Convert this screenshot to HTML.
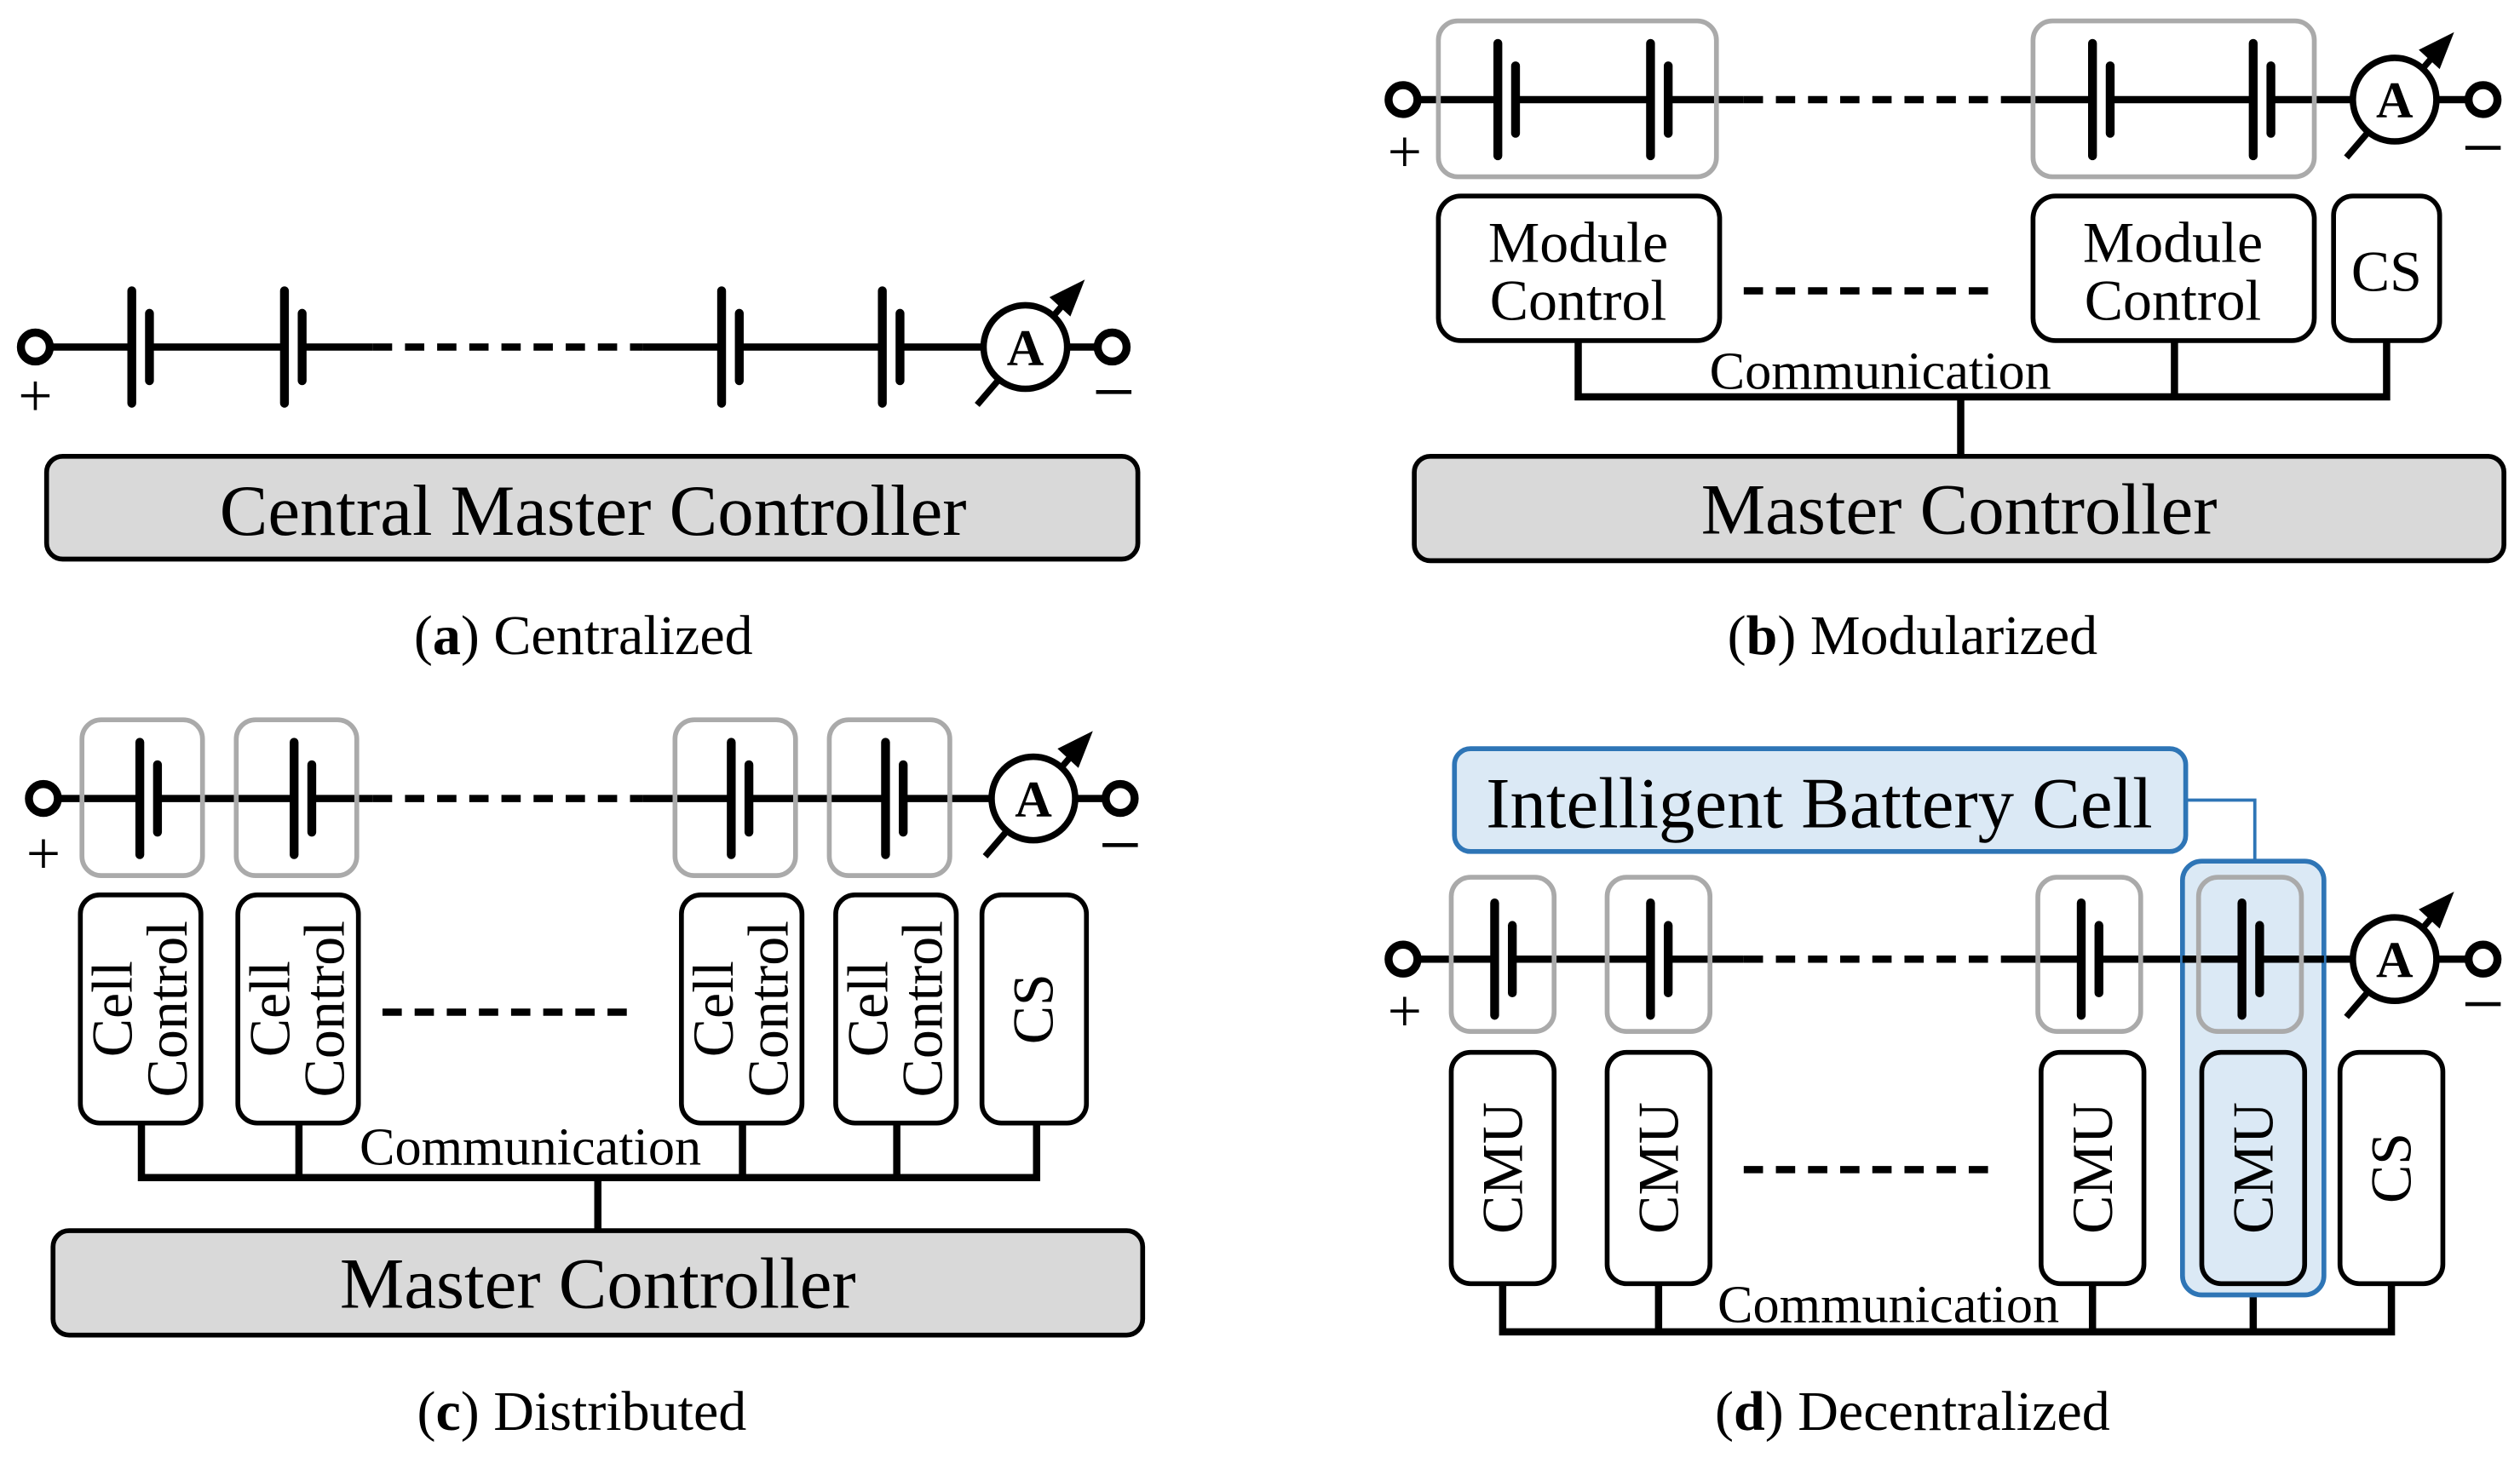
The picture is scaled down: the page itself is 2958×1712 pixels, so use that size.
<!DOCTYPE html>
<html><head><meta charset="utf-8"><style>html,body{margin:0;padding:0;background:#fff}svg{display:block}</style></head><body>
<svg width="2958" height="1712" viewBox="0 0 1568 907.5" xmlns="http://www.w3.org/2000/svg" font-family="'Liberation Serif', serif">
<defs>
<g id="cell"><rect x="2" y="-4" width="7" height="8" fill="#fff"/><g stroke="#000" stroke-linecap="round" stroke-width="5.5"><line x1="0" y1="-35" x2="0" y2="35"/><line x1="11" y1="-21" x2="11" y2="21"/></g></g>
<g id="amm"><line x1="-30" y1="36" x2="24" y2="-27" stroke="#000" stroke-width="4"/><polygon points="37,-42 15,-31 28,-19" fill="#000"/><circle cx="0" cy="0" r="26" fill="#fff" stroke="#000" stroke-width="4"/><text x="0" y="11" font-size="32" font-weight="bold" text-anchor="middle">A</text></g>
<g id="term"><circle cx="0" cy="0" r="9" fill="#fff" stroke="#000" stroke-width="5"/></g>
</defs>
<g stroke="#000" stroke-width="4.5" fill="none">
<line x1="31" y1="216" x2="232" y2="216"/><line x1="232" y1="216" x2="400" y2="216" stroke-dasharray="12,8"/><line x1="400" y1="216" x2="683" y2="216"/>
<line x1="882" y1="62" x2="1085" y2="62"/><line x1="1085" y1="62" x2="1245" y2="62" stroke-dasharray="12,8"/><line x1="1245" y1="62" x2="1536" y2="62"/>
<line x1="1085" y1="181" x2="1240" y2="181" stroke-dasharray="12,8"/>
<path d="M982 212V247H1485V212M1353 212V247M1220 247V284"/>
<line x1="36" y1="497" x2="232" y2="497"/><line x1="232" y1="497" x2="400" y2="497" stroke-dasharray="12,8"/><line x1="400" y1="497" x2="688" y2="497"/>
<line x1="238" y1="630" x2="395" y2="630" stroke-dasharray="12,8"/>
<path d="M88 699V733H645V699M186 699V733M462 699V733M558 699V733M372 733V766"/>
<line x1="882" y1="597" x2="1085" y2="597"/><line x1="1085" y1="597" x2="1245" y2="597" stroke-dasharray="12,8"/><line x1="1245" y1="597" x2="1536" y2="597"/>
<line x1="1085" y1="728" x2="1240" y2="728" stroke-dasharray="12,8"/>
<path d="M935 799V829H1488V799M1032 799V829M1302 799V829M1402 799V829"/>
</g>
<g fill="none" stroke="#aaa" stroke-width="3">
<rect x="895" y="13" width="173" height="97" rx="12"/><rect x="1265" y="13" width="175" height="97" rx="12"/>
<rect x="51" y="448" width="75" height="97" rx="12"/><rect x="147" y="448" width="75" height="97" rx="12"/><rect x="420" y="448" width="75" height="97" rx="12"/><rect x="516" y="448" width="75" height="97" rx="12"/>
</g>
<rect x="905" y="466" width="455" height="64" rx="10" fill="#dbe9f5" stroke="#2e75b6" stroke-width="3"/>
<path d="M1360 498H1403V536" fill="none" stroke="#2e75b6" stroke-width="2"/>
<rect x="1358" y="536" width="88" height="270" rx="12" fill="#dbe9f5" stroke="#2e75b6" stroke-width="3"/>
<line x1="1358" y1="597" x2="1446" y2="597" stroke="#000" stroke-width="4.5"/>
<text x="1132" y="515" font-size="45" text-anchor="middle">Intelligent Battery Cell</text>
<g fill="none" stroke="#aaa" stroke-width="3">
<rect x="903" y="546" width="64" height="96" rx="12"/><rect x="1000" y="546" width="64" height="96" rx="12"/><rect x="1268" y="546" width="64" height="96" rx="12"/><rect x="1368" y="546" width="64" height="96" rx="12"/>
</g>
<use href="#cell" x="82" y="216"/><use href="#cell" x="177" y="216"/><use href="#cell" x="449" y="216"/><use href="#cell" x="549" y="216"/>
<use href="#cell" x="932" y="62"/><use href="#cell" x="1027" y="62"/><use href="#cell" x="1302" y="62"/><use href="#cell" x="1402" y="62"/>
<use href="#cell" x="87" y="497"/><use href="#cell" x="183" y="497"/><use href="#cell" x="455" y="497"/><use href="#cell" x="551" y="497"/>
<use href="#cell" x="930" y="597"/><use href="#cell" x="1027" y="597"/><use href="#cell" x="1295" y="597"/>
<g transform="translate(1395,597)"><rect x="2" y="-4" width="7" height="8" fill="#dbe9f5"/><g stroke="#000" stroke-linecap="round" stroke-width="5.5"><line x1="0" y1="-35" x2="0" y2="35"/><line x1="11" y1="-21" x2="11" y2="21"/></g></g>
<use href="#amm" x="638" y="216"/><use href="#amm" x="1490" y="62"/><use href="#amm" x="643" y="497"/><use href="#amm" x="1490" y="597"/>
<use href="#term" x="22" y="216"/><use href="#term" x="692" y="216"/><use href="#term" x="873" y="62"/><use href="#term" x="1545" y="62"/>
<use href="#term" x="27" y="497"/><use href="#term" x="697" y="497"/><use href="#term" x="873" y="597"/><use href="#term" x="1545" y="597"/>
<g font-size="38" text-anchor="middle">
<text x="22" y="259">+</text><text x="874" y="107">+</text><text x="27" y="544">+</text><text x="874" y="642">+</text>
</g>
<g stroke="#000" stroke-width="2.5"><line x1="682" y1="244" x2="704" y2="244"/><line x1="1534" y1="92" x2="1556" y2="92"/><line x1="686" y1="526" x2="708" y2="526"/><line x1="1534" y1="625" x2="1556" y2="625"/></g>
<g fill="#d9d9d9" stroke="#000" stroke-width="3">
<rect x="29" y="284" width="679" height="64" rx="10"/><rect x="880" y="284" width="678" height="65" rx="10"/><rect x="33" y="766" width="678" height="65" rx="10"/>
</g>
<g font-size="45" text-anchor="middle">
<text x="369" y="333">Central Master Controller</text><text x="1219" y="332">Master Controller</text><text x="372" y="814">Master Controller</text>
</g>
<g fill="#fff" stroke="#000" stroke-width="3">
<rect x="895" y="122" width="175" height="90" rx="14"/><rect x="1265" y="122" width="175" height="90" rx="14"/><rect x="1452" y="122" width="66" height="90" rx="12"/>
<rect x="50" y="557" width="75" height="142" rx="12"/><rect x="148" y="557" width="75" height="142" rx="12"/><rect x="424" y="557" width="75" height="142" rx="12"/><rect x="520" y="557" width="75" height="142" rx="12"/><rect x="611" y="557" width="65" height="142" rx="12"/>
<rect x="903" y="655" width="64" height="144" rx="12"/><rect x="1000" y="655" width="64" height="144" rx="12"/><rect x="1270" y="655" width="64" height="144" rx="12"/><rect x="1370" y="655" width="64" height="144" rx="12" fill="#dbe9f5"/><rect x="1456" y="655" width="64" height="144" rx="12"/>
</g>
<g font-size="36" text-anchor="middle">
<text x="982" y="163">Module</text><text x="982" y="199">Control</text>
<text x="1352" y="163">Module</text><text x="1352" y="199">Control</text>
<text x="1485" y="181">CS</text>
<g transform="translate(87,628) rotate(-90)"><text y="-5">Cell</text><text y="29">Control</text></g>
<g transform="translate(185,628) rotate(-90)"><text y="-5">Cell</text><text y="29">Control</text></g>
<g transform="translate(461,628) rotate(-90)"><text y="-5">Cell</text><text y="29">Control</text></g>
<g transform="translate(557,628) rotate(-90)"><text y="-5">Cell</text><text y="29">Control</text></g>
<g transform="translate(643,628) rotate(-90)"><text y="12">CS</text></g>
<g transform="translate(935,727) rotate(-90)"><text y="12">CMU</text></g>
<g transform="translate(1032,727) rotate(-90)"><text y="12">CMU</text></g>
<g transform="translate(1302,727) rotate(-90)"><text y="12">CMU</text></g>
<g transform="translate(1402,727) rotate(-90)"><text y="12">CMU</text></g>
<g transform="translate(1488,727) rotate(-90)"><text y="12">CS</text></g>
</g>
<g font-size="33" text-anchor="middle">
<text x="1170" y="242">Communication</text><text x="330" y="725">Communication</text><text x="1175" y="823">Communication</text>
</g>
<g font-size="35" text-anchor="middle">
<text x="363" y="407">(<tspan font-weight="bold">a</tspan>) Centralized</text>
<text x="1190" y="407">(<tspan font-weight="bold">b</tspan>) Modularized</text>
<text x="362" y="890">(<tspan font-weight="bold">c</tspan>) Distributed</text>
<text x="1190" y="890">(<tspan font-weight="bold">d</tspan>) Decentralized</text>
</g>
</svg>
</body></html>
